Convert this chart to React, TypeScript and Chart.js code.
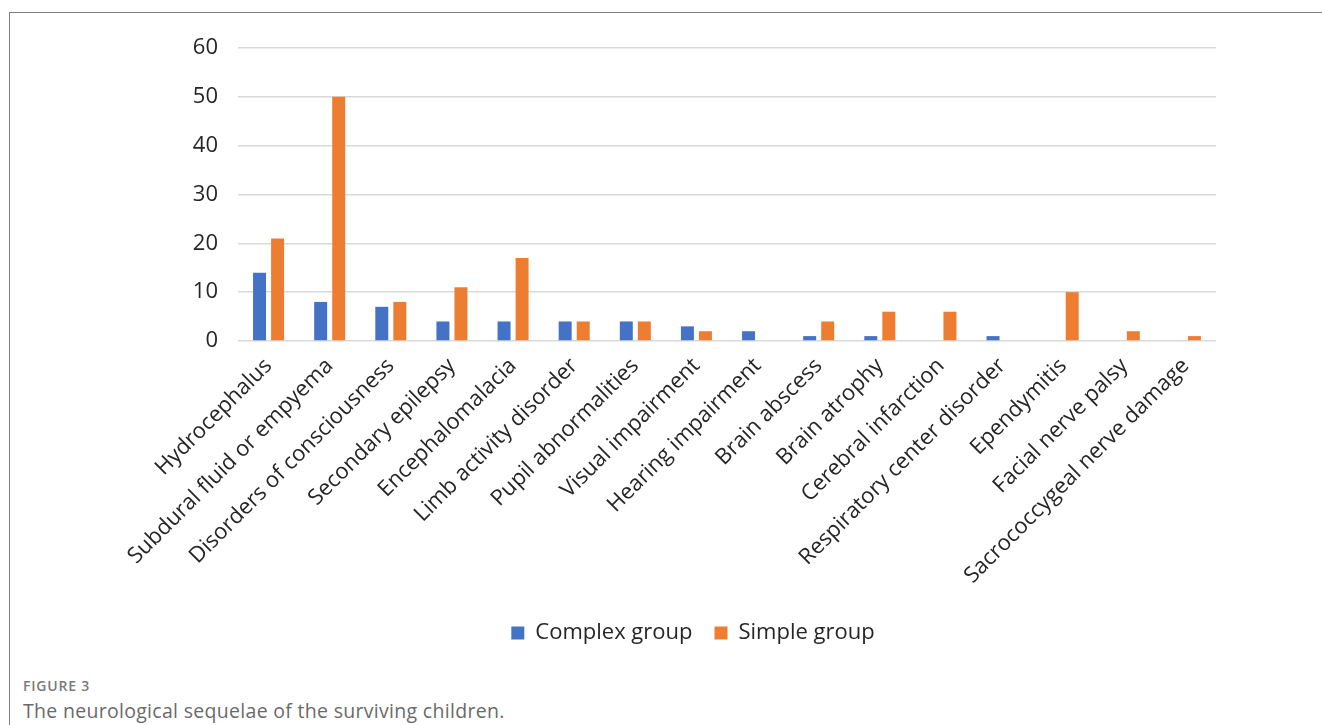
import React, { useEffect, useRef } from "react";
import { Chart, registerables } from "chart.js";

Chart.register(...registerables);

const categories = [
  "Hydrocephalus",
  "Subdural fluid or empyema",
  "Disorders of consciousness",
  "Secondary epilepsy",
  "Encephalomalacia",
  "Limb activity disorder",
  "Pupil abnormalities",
  "Visual impairment",
  "Hearing impairment",
  "Brain abscess",
  "Brain atrophy",
  "Cerebral infarction",
  "Respiratory center disorder",
  "Ependymitis",
  "Facial nerve palsy",
  "Sacrococcygeal nerve damage",
];

const complexGroup = [14, 8, 7, 4, 4, 4, 4, 3, 2, 1, 1, 0, 1, 0, 0, 0];
const simpleGroup = [21, 50, 8, 11, 17, 4, 4, 2, 0, 4, 6, 6, 0, 10, 2, 1];

const seriesNames = ["Complex group", "Simple group"];
const yMax = 60;
const yStep = 10;

const FONT = "'Open Sans', 'Noto Sans', sans-serif";

export default function App() {
  const canvasRef = useRef<HTMLCanvasElement | null>(null);

  useEffect(() => {
    document.body.style.margin = "0";
    const canvas = canvasRef.current;
    if (!canvas) return;
    const chart = new Chart(canvas, {
      type: "bar",
      data: {
        labels: categories,
        datasets: [
          {
            label: seriesNames[0],
            data: complexGroup,
            backgroundColor: "#4472C4",
            categoryPercentage: 0.59,
            barPercentage: 0.72,
          },
          {
            label: seriesNames[1],
            data: simpleGroup,
            backgroundColor: "#ED7D31",
            categoryPercentage: 0.59,
            barPercentage: 0.72,
          },
        ],
      },
      options: {
        animation: false,
        responsive: false,
        maintainAspectRatio: false,
        layout: { padding: { top: 35, right: 106, bottom: 11, left: 160 } },
        plugins: {
          tooltip: { enabled: false },
          legend: {
            position: "bottom",
            labels: {
              boxWidth: 13,
              boxHeight: 13,
              padding: 22,
              color: "#262626",
              font: { family: FONT, size: 22 },
            },
          },
        },
        scales: {
          x: {
            grid: { display: false },
            border: { display: false },
            ticks: {
              minRotation: 45,
              maxRotation: 45,
              autoSkip: false,
              color: "#262626",
              padding: 4,
              font: { family: FONT, size: 22 },
            },
            afterFit: (scale: any) => {
              scale.height = 259;
            },
          },
          y: {
            min: 0,
            max: yMax,
            grid: {
              color: "#d9d9d9",
              lineWidth: 1.5,
              drawTicks: false,
            },
            border: { display: false },
            ticks: {
              stepSize: yStep,
              padding: 20,
              color: "#262626",
              font: { family: FONT, size: 22 },
            },
            afterFit: (scale: any) => {
              scale.width = 68;
            },
          },
        },
      },
    });
    return () => chart.destroy();
  }, []);

  return (
    <div style={{ position: "relative", width: 1322, height: 725, overflow: "hidden", background: "#fff" }}>
      <div
        style={{
          position: "absolute",
          left: 9,
          top: 12,
          width: 1322,
          height: 800,
          borderTop: "1px solid #808080",
          borderLeft: "1px solid #808080",
        }}
      />
      <canvas
        ref={canvasRef}
        width={1312}
        height={652}
        style={{ position: "absolute", left: 10, top: 13, width: 1312, height: 652 }}
      />
      <div
        style={{
          position: "absolute",
          left: 23,
          top: 676,
          fontFamily: "'Open Sans', sans-serif",
          fontSize: 14,
          fontWeight: 600,
          letterSpacing: 0.8,
          color: "#7a7a7a",
        }}
      >
        FIGURE 3
      </div>
      <div
        style={{
          position: "absolute",
          left: 23,
          top: 697,
          fontFamily: "'Open Sans', sans-serif",
          fontSize: 19.5,
          letterSpacing: 0.3,
          color: "#6a6a6a",
        }}
      >
        The neurological sequelae of the surviving children.
      </div>
    </div>
  );
}
